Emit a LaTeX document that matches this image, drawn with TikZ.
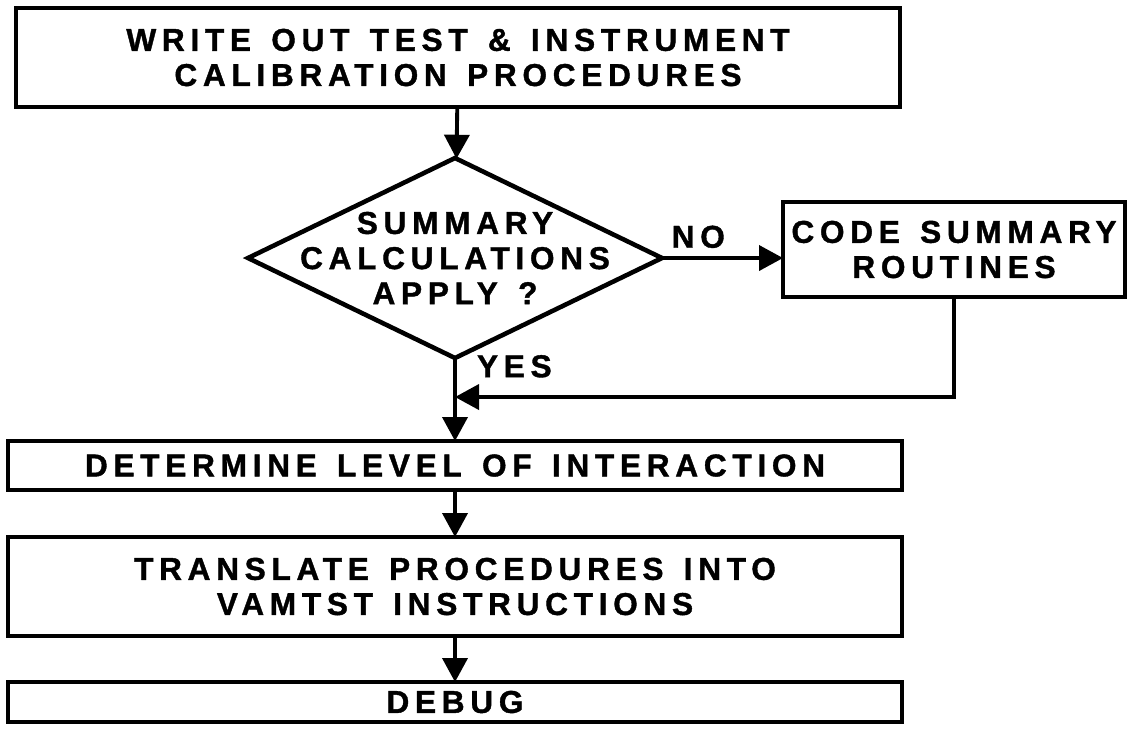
\documentclass[tikz,border=0pt]{standalone}
\usepackage{fontspec}
\usepackage{tikz}
\usetikzlibrary{arrows.meta,positioning,calc,shapes.geometric}
\newfontfamily\flowfont[LetterSpace=18,WordSpace=1.4,FakeBold=1.2]{Liberation Sans}

\begin{document}
\begin{tikzpicture}[every node/.style={font=\flowfont\bfseries\fontsize{9}{10}\selectfont,align=center,inner sep=0pt,outer sep=0pt},
  stepbox/.style={draw,line width=1.3pt,minimum width=8.94cm,minimum height=#1},
  decision/.style={draw,line width=1.3pt,diamond,minimum width=4.14cm,minimum height=2cm,aspect=2.07},
  flow/.style={line width=1.1pt,-{Triangle[length=2.4mm,width=2.5mm]}}]
\useasboundingbox (0,0) rectangle (11.27,-7.29);
\node[stepbox=0.99cm,minimum width=8.84cm] (write) at (4.58,-0.575) {WRITE OUT TEST \& INSTRUMENT\\CALIBRATION PROCEDURES};
\node[decision,below=0.51cm of write.south,anchor=north,xshift=-0.03cm] (apply) {};
\node at (apply.center) (applytext) {SUMMARY\\CALCULATIONS\\APPLY ?};
\node[stepbox=0.95cm,minimum width=3.42cm,right=1.21cm of apply.east,anchor=west,yshift=0.085cm] (code) {CODE SUMMARY\\ROUTINES};
\node[stepbox=0.49cm,below=0.83cm of apply.south,anchor=north] (level) {DETERMINE LEVEL OF INTERACTION};
\node[stepbox=0.99cm,below=0.47cm of level] (translate) {TRANSLATE PROCEDURES INTO\\VAMTST INSTRUCTIONS};
\node[stepbox=0.40cm,below=0.46cm of translate] (debug) {DEBUG};
\coordinate (join) at ($(apply.south)!0.47!(level.north)$);
\draw[flow] (write) -- (apply);
\draw[flow] (apply.east) -- node[pos=0.3,above=0.1cm] (no) {NO} (apply.east -| code.west);
\draw[flow] (apply.south) -- node[pos=0.1,right=0.22cm] (yes) {YES} (level.north);
\draw[flow] (code.south) |- (join);
\draw[flow] (level) -- (translate);
\draw[flow] (translate) -- (debug);
\end{tikzpicture}
\end{document}
